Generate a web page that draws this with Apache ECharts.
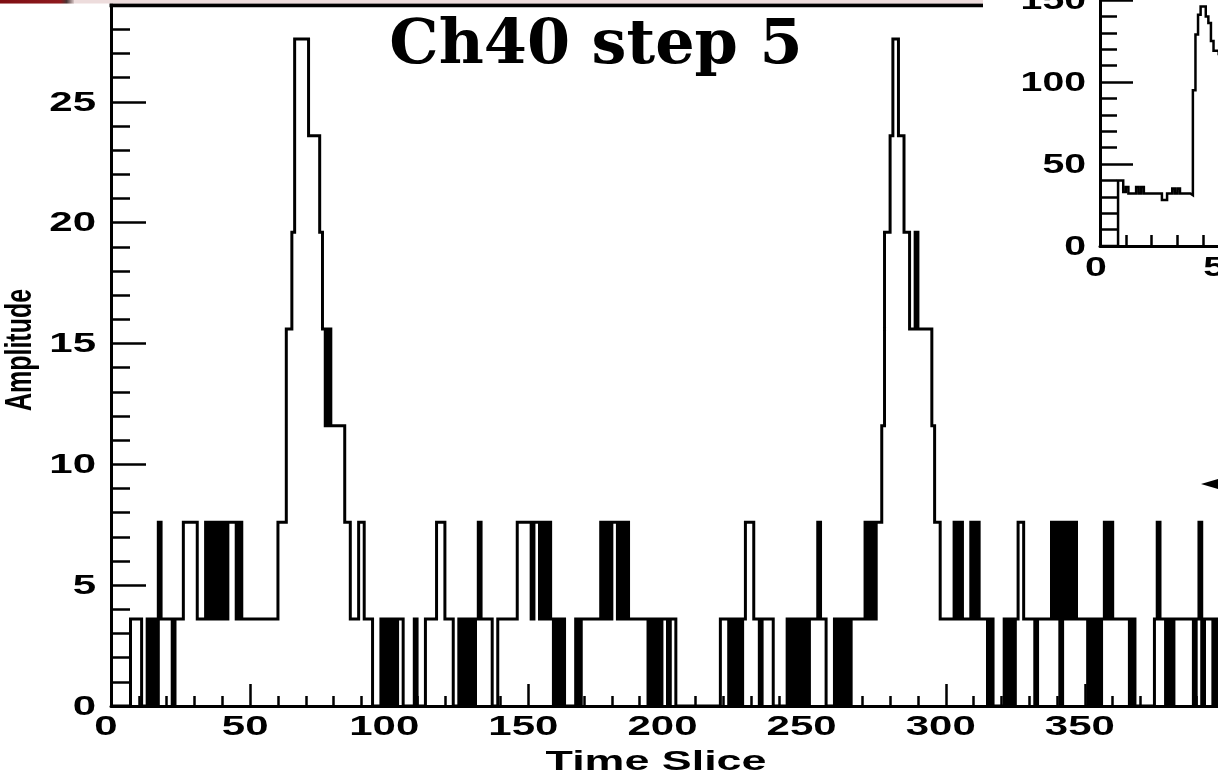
<!DOCTYPE html>
<html>
<head>
<meta charset="utf-8">
<script src="https://cdn.jsdelivr.net/npm/echarts@6/dist/echarts.min.js"></script>
<style>
  html, body { margin: 0; padding: 0; background: #fff; }
  #main { width: 1218px; height: 775px; }
</style>
</head>
<body>
<div id="main"></div>
<script>
// Amplitude per time slice (bin width 1, slices 0..399)
const amplitude = [
  0,0,0,0,0,0,0,3.6,3.6,3.6,
  3.6,0,0,3.6,0,3.6,0,7.6,3.6,3.6,
  3.6,3.6,0,3.6,3.6,3.6,7.6,7.6,7.6,7.6,
  7.6,3.6,3.6,3.6,7.6,3.6,7.6,3.6,7.6,3.6,
  7.6,3.6,7.6,7.6,7.6,3.6,7.6,3.6,3.6,3.6,
  3.6,3.6,3.6,3.6,3.6,3.6,3.6,3.6,3.6,3.6,
  7.6,7.6,7.6,15.6,15.6,19.6,27.6,27.6,27.6,27.6,
  27.6,23.6,23.6,23.6,23.6,19.6,15.6,11.6,15.6,11.6,
  11.6,11.6,11.6,11.6,7.6,7.6,3.6,3.6,3.6,7.6,
  7.6,3.6,3.6,3.6,0,0,0,3.6,0,3.6,
  0,3.6,0,3.6,3.6,0,0,0,0,3.6,
  0,0,0,3.6,3.6,3.6,3.6,7.6,7.6,7.6,
  3.6,3.6,3.6,0,0,3.6,0,3.6,0,3.6,
  0,3.6,7.6,3.6,3.6,3.6,3.6,0,0,3.6,
  3.6,3.6,3.6,3.6,3.6,3.6,7.6,7.6,7.6,7.6,
  7.6,3.6,7.6,7.6,3.6,7.6,3.6,7.6,3.6,0,
  3.6,0,3.6,0,0,0,0,3.6,0,3.6,
  3.6,3.6,3.6,3.6,3.6,3.6,7.6,3.6,7.6,3.6,
  7.6,7.6,3.6,7.6,3.6,7.6,3.6,3.6,3.6,3.6,
  3.6,3.6,3.6,0,3.6,0,3.6,0,3.6,3.6,
  0,3.6,3.6,0,0,0,0,0,0,0,
  0,0,0,0,0,0,0,0,0,3.6,
  3.6,3.6,0,3.6,0,3.6,0,3.6,7.6,7.6,
  7.6,3.6,3.6,0,3.6,3.6,3.6,3.6,0,0,
  0,0,0,3.6,0,3.6,0,3.6,0,3.6,
  0,3.6,3.6,3.6,7.6,3.6,3.6,0,0,0,
  3.6,0,3.6,0,3.6,0,3.6,3.6,3.6,3.6,
  3.6,7.6,3.6,7.6,3.6,7.6,7.6,11.6,19.6,19.6,
  23.6,27.6,27.6,23.6,23.6,19.6,19.6,15.6,15.6,19.6,
  15.6,15.6,15.6,15.6,15.6,11.6,7.6,7.6,3.6,3.6,
  3.6,3.6,3.6,7.6,3.6,7.6,3.6,3.6,3.6,7.6,
  3.6,7.6,3.6,3.6,3.6,0,3.6,0,0,0,
  0,3.6,0,3.6,0,3.6,7.6,7.6,3.6,3.6,
  3.6,3.6,0,3.6,3.6,3.6,3.6,3.6,7.6,3.6,
  7.6,0,7.6,3.6,7.6,3.6,7.6,3.6,3.6,3.6,
  3.6,0,3.6,0,3.6,0,3.6,7.6,3.6,7.6,
  3.6,3.6,3.6,3.6,3.6,3.6,0,3.6,0,0,
  0,0,0,0,0,3.6,7.6,3.6,3.6,0,
  3.6,0,3.6,3.6,3.6,3.6,3.6,3.6,3.6,0,
  3.6,7.6,0,3.6,3.6,3.6,0,3.6,0,3.6
];

// Small pulse-shape histogram (inset), one value per slice
const insetAmplitude = [
  0,0,0,0,0,0,0,40,40,33,
  36,32,32,32,36,32,36,32,32,32,
  32,32,32,32,28,28,32,32,35,32,
  35,32,32,32,32,31,95,129,141,146,
  146,140,136,125,119,119,117,110
];

const xTickLabels = [0, 50, 100, 150, 200, 250, 300, 350];
const yTickLabels = [0, 5, 10, 15, 20, 25];
const insetXTickLabels = [0, 50];
const insetYTickLabels = [0, 50, 100, 150];

const titleText = 'Ch40 step 5';
const xTitle = 'Time Slice';
const yTitle = 'Amplitude';

// histogram outline: each bin drawn flat from its low edge to the next edge
function toSteps(values) {
  const pts = values.map((v, i) => [i, v]);
  pts.push([values.length, values[values.length - 1]]);
  return pts;
}

const chart = echarts.init(document.getElementById('main'), null, { renderer: 'canvas', width: 1218, height: 775 });

const black = '#000';
function axisStyle(majorLen, minorLen, interval, min, max, gridIndex) {
  return {
    type: 'value', gridIndex, min, max, interval,
    axisLine: { show: true, onZero: false, lineStyle: { color: black, width: 3 } },
    axisTick: { show: true, inside: true, length: majorLen, lineStyle: { color: black, width: 2.5 } },
    minorTick: { show: true, splitNumber: 5, length: minorLen, lineStyle: { color: black, width: 2.5 } },
    axisLabel: { show: false },
    splitLine: { show: false },
    minorSplitLine: { show: false }
  };
}

const option = {
  animation: false,
  backgroundColor: '#fff',
  grid: [
    { left: 111, top: -19, width: 1113, height: 725, outerBoundsMode: 'none', containLabel: false, show: false },
    { left: 1100, top: 0, width: 258, height: 246, outerBoundsMode: 'none', containLabel: false, show: false }
  ],
  xAxis: [
    axisStyle(22, 10, 50, 0, 400, 0),
    axisStyle(22, 11, 50, 0, 100, 1)
  ],
  yAxis: [
    axisStyle(35, 19, 5, 0, 30, 0),
    axisStyle(33, 17, 50, 0, 150, 1)
  ],
  series: [
    {
      type: 'line', xAxisIndex: 0, yAxisIndex: 0, step: 'end',
      data: toSteps(amplitude), symbol: 'none', showSymbol: false,
      lineStyle: { color: black, width: 3, join: 'miter' }, clip: true, z: 3
    },
    {
      type: 'line', xAxisIndex: 1, yAxisIndex: 1, step: 'end',
      data: toSteps(insetAmplitude), symbol: 'none', showSymbol: false,
      lineStyle: { color: black, width: 2.5, join: 'miter' }, clip: true, z: 3
    }
  ]
};
chart.setOption(option);

// ---- text drawn as graphic elements (horizontally stretched glyphs) ----
const labelFont = 'bold 28px "Liberation Sans", Arial, sans-serif';
const stretch = 1.5;
const graphics = [];

function addText(text, x, y, opts) {
  graphics.push(Object.assign({
    type: 'text', x, y, z: 100, silent: true,
    style: {
      text, font: opts.font || labelFont, fill: black,
      align: opts.align || 'center', textAlign: opts.align || 'center',
      verticalAlign: opts.valign || 'middle', textVerticalAlign: opts.valign || 'middle'
    }
  }, opts.transform || { scaleX: stretch }));
}

xTickLabels.forEach(v => {
  const px = chart.convertToPixel({ xAxisIndex: 0 }, v);
  addText(String(v), px - 5, 727, {});
});
yTickLabels.forEach(v => {
  const py = chart.convertToPixel({ yAxisIndex: 0 }, v);
  addText(String(v), 96, py + 1, { align: 'right' });
});
insetXTickLabels.forEach(v => {
  const px = chart.convertToPixel({ xAxisIndex: 1 }, v);
  addText(String(v), px - 4, 268, { transform: { scaleX: 1.4 } });
});
insetYTickLabels.forEach(v => {
  const py = chart.convertToPixel({ yAxisIndex: 1 }, v);
  addText(String(v), 1086, py + 1, { align: 'right', transform: { scaleX: 1.4 } });
});

addText(xTitle, 656, 762, { transform: { scaleX: 1.6 } });
addText(yTitle, 21, 350, {
  font: 'bold 25px "Liberation Sans", Arial, sans-serif',
  transform: { rotation: Math.PI / 2, scaleY: 1.5 }
});

// title
graphics.push({
  type: 'text', x: 596, y: 47, z: 100, silent: true,
  style: {
    text: titleText, font: 'bold 62px "DejaVu Serif", serif', fill: black,
    align: 'center', textAlign: 'center', verticalAlign: 'middle', textVerticalAlign: 'middle'
  }
});

// frame top edge of the main plot (stops where the inset panel begins)
graphics.push({ type: 'line', z: 90, silent: true, shape: { x1: 109.5, y1: 5.3, x2: 983, y2: 5.3 }, style: { stroke: black, lineWidth: 4 } });

// slide header strip along the top
graphics.push({ type: 'rect', z: 95, silent: true, shape: { x: 0, y: 0, width: 983, height: 3.4 }, style: { fill: '#eddcdc' } });
graphics.push({
  type: 'rect', z: 96, silent: true, shape: { x: 0, y: 0, width: 74, height: 3.4 },
  style: {
    fill: new echarts.graphic.LinearGradient(0, 0, 1, 0, [
      { offset: 0, color: '#7e0d12' }, { offset: 0.82, color: '#8e1a1e' }, { offset: 0.9, color: '#4a3434' }, { offset: 1, color: '#d8c6c6' }
    ])
  }
});

// pointer arrow at the right edge
graphics.push({ type: 'polygon', z: 100, silent: true, shape: { points: [[1201, 484], [1228, 476], [1228, 492]] }, style: { fill: black } });

chart.setOption({ graphic: graphics });
</script>
</body>
</html>
